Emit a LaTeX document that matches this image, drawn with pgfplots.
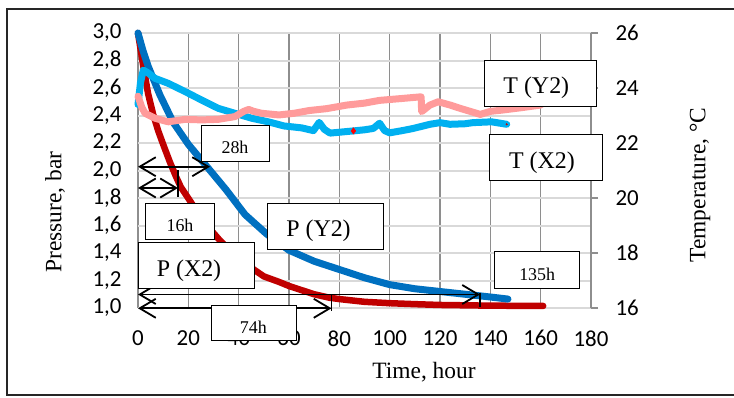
\documentclass[border=0pt]{standalone}
\usepackage{fontspec}
\setmainfont{Carlito}
\newfontfamily\tnr{Liberation Serif}
\usepackage{pgfplots}
\pgfplotsset{compat=1.18}
\usetikzlibrary{arrows.meta}
\definecolor{pred}{HTML}{C00000}
\definecolor{pblue}{HTML}{0070C0}
\definecolor{tblue}{HTML}{00B0F0}
\definecolor{tpink}{HTML}{FF9B9B}
\definecolor{vgrid}{HTML}{8E8E8E}
\definecolor{hgrid}{HTML}{D9D9D9}
\begin{document}
\begin{tikzpicture}[x=1bp,y=1bp]
\useasboundingbox (0,0) rectangle (734,397);
\draw[line width=1.6bp, black!85] (734,388) -- (6.7,388) -- (6.7,2) -- (734,2);

\begin{axis}[
  at={(138bp,89bp)}, anchor=south west,
  scale only axis, width=453bp, height=275bp,
  xmin=0, xmax=180, ymin=1, ymax=3,
  xtick={0,20,...,180},
  ytick={1,1.2,1.4,1.6,1.8,2,2.2,2.4,2.6,2.8,3},
  axis line style={draw=none},
  major tick length=0pt,
  xmajorgrids, ymajorgrids,
  x grid style={vgrid, line width=1.5bp},
  y grid style={hgrid, line width=2bp},
  tick label style={font=\fontsize{23}{27}\selectfont},
  /pgf/number format/assume math mode=true,
  yticklabel style={/pgf/number format/.cd, fixed, fixed zerofill, precision=1, use comma, /tikz/.cd, xshift=-13bp},
  xticklabel style={/pgf/number format/.cd, fixed, precision=0, /tikz/.cd, yshift=-19bp},
  clip=false,
]
\addplot[pred, line width=6.5bp, line cap=round, line join=round] table {
0 3.00
2 2.77
4 2.56
6 2.41
8 2.29
10 2.19
12.7 2.06
15 1.96
17 1.88
21 1.77
26 1.63
32.6 1.49
40 1.36
46 1.28
50 1.23
56 1.19
60 1.16
70 1.10
76 1.075
80 1.065
90 1.045
100 1.035
110 1.028
120 1.022
140 1.017
161 1.015
};
\addplot[pblue, line width=7bp, line cap=round, line join=round] table {
0 3.00
2 2.87
4 2.76
8.7 2.55
14 2.35
20 2.19
27.3 2.03
35 1.86
42.5 1.68
51 1.54
60 1.42
70 1.34
80 1.28
90 1.22
100 1.17
110 1.14
120 1.12
130 1.10
140 1.08
147 1.065
};
\end{axis}

\begin{axis}[
  at={(138bp,89bp)}, anchor=south west,
  scale only axis, width=453bp, height=275bp,
  xmin=0, xmax=180, ymin=16, ymax=26,
  axis x line=none, axis y line*=right,
  ytick={16,18,20,22,24,26},
  y axis line style={vgrid, line width=1.5bp},
  ytick style={vgrid, line width=1.5bp},
  tick align=outside, major tick length=7bp,
  tick label style={font=\fontsize{23}{27}\selectfont},
  yticklabel style={xshift=14bp},
  /pgf/number format/assume math mode=true,
  clip=false,
]
\addplot[tblue, line width=7bp, line cap=round, line join=round] table {
0 23.40
1 24.20
2.1 24.65
4 24.55
6.8 24.35
12 24.17
18.7 23.87
25.3 23.56
31.9 23.26
38.5 23.08
45.2 22.90
51.8 22.77
58 22.62
65 22.55
69.7 22.45
72 22.75
74 22.50
76.3 22.36
81 22.40
85.6 22.44
90 22.48
93.5 22.53
96 22.72
98 22.45
100 22.37
105 22.45
109.4 22.53
116 22.68
120 22.74
124 22.68
130 22.70
133 22.74
140.5 22.77
146.5 22.68
};
\addplot[tpink, line width=7bp, line cap=round, line join=round] table {
0 23.70
1.5 23.30
2.8 23.08
6.8 22.90
12 22.77
18.7 22.86
25.3 22.84
31.9 22.86
38.5 22.96
42 23.15
44 23.22
46 23.15
49.2 23.08
56 23.02
62 23.08
68 23.18
75 23.25
83 23.38
90 23.45
96 23.55
105 23.62
112.5 23.68
112.7 23.14
116 23.38
119.3 23.50
124 23.38
128 23.26
136 23.04
140 23.15
145 23.20
152 23.28
160 23.38
};
\addplot[only marks, mark=diamond*, color=red, mark size=3.2bp] coordinates {(85.6,22.44)};
\addplot[only marks, mark=*, color=red!80!black, mark size=0.8bp] coordinates {(146.5,22.68)};
\end{axis}

% arrows
\tikzset{arr/.style={line width=1.8bp, black, {Straight Barb[length=16bp,width=19bp]}-{Straight Barb[length=16bp,width=19bp]}}}
\draw[arr] (138,230.3) -- (210,230.3);
\draw[arr] (138,209) -- (178,209);
\draw[line width=1.5bp] (178,227) -- (178,200.3);
\draw[arr] (138,102.5) -- (480,102.5);
\draw[line width=1.5bp] (480,104.5) -- (480,89.7);
\draw[arr] (138,88.7) -- (331.5,88.7);
\draw[line width=1.5bp] (331.5,102) -- (331.5,86.3);

% text boxes
\tikzset{bx/.style={draw=black, fill=white, line width=1bp}}
\tikzset{big/.style={font=\tnr\fontsize{24}{28}\selectfont, anchor=base, inner sep=0pt}}
\tikzset{sml/.style={font=\tnr\fontsize{18}{22}\selectfont, anchor=base, inner sep=0pt}}
\draw[bx] (201,271.3) rectangle (269.3,235.3);
\node[sml] at (235,243.7) {28h};
\draw[bx] (145.7,193.7) rectangle (214.3,158);
\node[sml] at (180,165.3) {16h};
\draw[bx] (138.3,154.7) rectangle (254.3,108.7);
\node[big] at (189,121) {P (X2)};
\draw[bx] (211.7,92) rectangle (296,56.3);
\node[sml] at (253.3,63.7) {74h};
\draw[bx] (267.3,193.7) rectangle (383.3,147.7);
\node[big] at (318.5,160.3) {P (Y2)};
\draw[bx] (494.3,145.3) rectangle (579,108.7);
\node[sml] at (537.2,116.3) {135h};
\draw[bx] (484,336.3) rectangle (596.7,290.3);
\node[big] at (536.3,303.7) {T (Y2)};
\draw[bx] (489.7,262.3) rectangle (602,216.3);
\node[big] at (542,228.7) {T (X2)};

% axis titles
\node[rotate=90, font=\tnr\fontsize{23.5}{28}\selectfont] at (55,185) {Pressure, bar};
\node[rotate=90, font=\tnr\fontsize{23.5}{28}\selectfont] at (700,212) {Temperature, °C};
\node[font=\tnr\fontsize{23.5}{28}\selectfont] at (424,25) {Time, hour};
\end{tikzpicture}
\end{document}
